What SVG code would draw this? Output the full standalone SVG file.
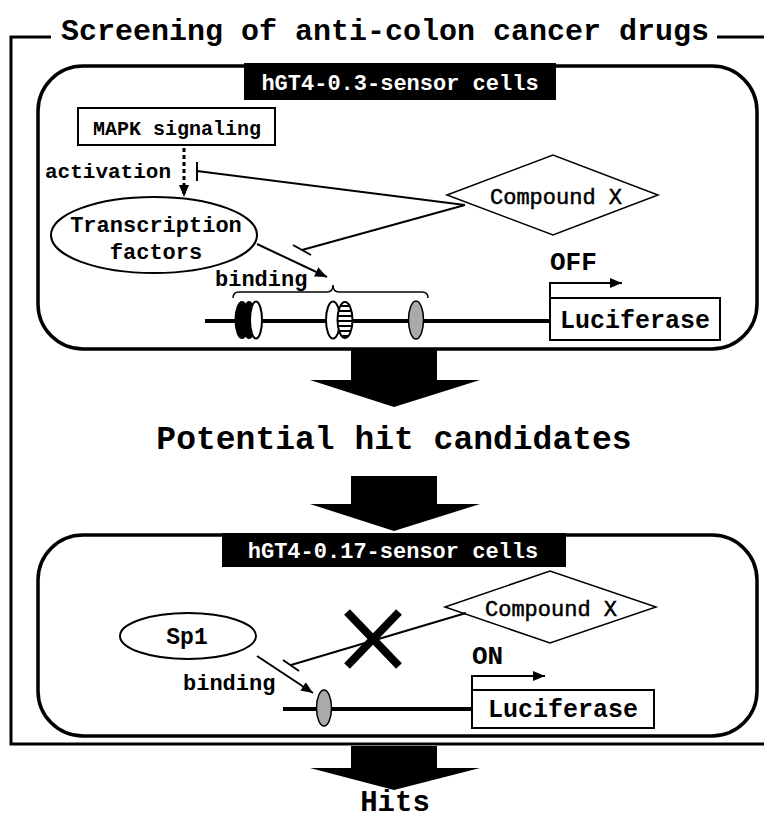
<svg xmlns="http://www.w3.org/2000/svg" width="764" height="823" viewBox="0 0 764 823">
<defs>
<style>
text{font-family:"Liberation Mono","Courier New",monospace;font-weight:bold;fill:#000}
.c{text-anchor:middle}
.w{fill:#fff}
.n{font-weight:normal;stroke:#000;stroke-width:0.5}
.ln{fill:none;stroke:#000;stroke-width:2}
.panel{fill:none;stroke:#000;stroke-width:3.5}
.frame{fill:none;stroke:#000;stroke-width:3}
.box{fill:#fff;stroke:#000;stroke-width:2}
.dia{fill:#fff;stroke:#000;stroke-width:1.5}
.big{fill:#000}
</style>
<marker id="arr" viewBox="0 0 12 10" refX="12" refY="5" markerWidth="12" markerHeight="10" markerUnits="userSpaceOnUse" orient="auto"><path d="M0,0 L12,5 L0,10 z" fill="#000"/></marker>
<pattern id="stripes" patternUnits="userSpaceOnUse" width="6" height="5"><rect width="6" height="5" fill="#fff"/><rect y="0" width="6" height="2" fill="#000"/></pattern>
</defs>

<g id="frame">
<path class="frame" d="M51,37 H11 V744 H764 M717,37 H764"/>
<text class="c" x="385" y="40" font-size="30">Screening of anti-colon cancer drugs</text>
</g>

<g id="panel1">
<rect class="panel" x="38" y="66" width="719" height="283" rx="45"/>
<rect x="244" y="63" width="312" height="37" fill="#000"/>
<text class="c w" x="400" y="90" font-size="22">hGT4-0.3-sensor cells</text>
</g>

<g id="mapk">
<rect class="box" x="78" y="108" width="197" height="37"/>
<text class="c" x="177" y="135" font-size="20">MAPK signaling</text>
</g>

<g id="tf">
<ellipse class="box" cx="154" cy="235" rx="103" ry="38"/>
<text class="c" x="156" y="232" font-size="22">Transcription</text>
<text class="c" x="156" y="259" font-size="22">factors</text>
</g>

<g id="compound1">
<polygon class="dia" points="447,195 553,155 658,195 553,235"/>
<text class="c n" x="556" y="204" font-size="22">Compound X</text>
</g>

<g id="dna1">
<line x1="205" y1="321" x2="550" y2="321" stroke="#000" stroke-width="4"/>
<ellipse cx="242" cy="320" rx="7.5" ry="19" fill="#000"/>
<ellipse cx="249" cy="320" rx="7" ry="19" fill="#000"/>
<ellipse cx="256" cy="320" rx="6" ry="18.5" fill="#fff" stroke="#000" stroke-width="2"/>
<ellipse cx="333" cy="320" rx="7" ry="18.5" fill="#fff" stroke="#000" stroke-width="2"/>
<ellipse cx="345" cy="320" rx="7.5" ry="18" fill="url(#stripes)" stroke="#000" stroke-width="2"/>
<ellipse cx="416" cy="320" rx="7.5" ry="19" fill="#aaa" stroke="#000" stroke-width="1.5"/>
<path d="M233,298 Q233,292 239,292 H327 Q333,292 333,285 Q333,292 339,292 H422 Q428,292 428,298" fill="none" stroke="#000" stroke-width="1.5"/>
</g>

<g id="luc1">
<rect class="box" x="550" y="298" width="170" height="42"/>
<text class="c" x="635" y="328" font-size="25">Luciferase</text>
<text x="550" y="270" font-size="26">OFF</text>
</g>

<g id="panel2">
<rect class="panel" x="38" y="535" width="719" height="201" rx="45"/>
<rect x="222" y="533" width="344" height="34" fill="#000"/>
<text class="c w" x="393" y="558" font-size="22">hGT4-0.17-sensor cells</text>
</g>

<g id="compound2">
<polygon class="dia" points="445,607 550,571 656,607 550,643"/>
<text class="c n" x="551" y="616" font-size="22">Compound X</text>
</g>

<g id="sp1">
<ellipse class="box" cx="188" cy="636" rx="68" ry="23"/>
<text class="c" x="187" y="644" font-size="23">Sp1</text>
</g>

<g id="dna2">
<line x1="283" y1="709" x2="472" y2="709" stroke="#000" stroke-width="4"/>
<ellipse cx="324" cy="708" rx="7.5" ry="18" fill="#aaa" stroke="#000" stroke-width="1.5"/>
</g>

<g id="luc2">
<rect class="box" x="472" y="690" width="182" height="38"/>
<text class="c" x="563" y="717" font-size="25">Luciferase</text>
<text x="472" y="664" font-size="26">ON</text>
</g>

<g id="connectors">
<line x1="184" y1="148" x2="184" y2="197" stroke="#000" stroke-width="3" stroke-dasharray="4,3" marker-end="url(#arr)"/>
<text x="45" y="178" font-size="21">activation</text>
<line class="ln" x1="197" y1="171" x2="465" y2="205"/>
<line class="ln" x1="197" y1="162" x2="197" y2="181"/>
<line class="ln" x1="465" y1="205" x2="302" y2="250"/>
<line class="ln" x1="293" y1="245" x2="311" y2="255"/>
<line class="ln" x1="257" y1="244" x2="327" y2="277" marker-end="url(#arr)"/>
<text x="215" y="286" font-size="22">binding</text>
<path class="ln" d="M550,298 V283 H622" stroke-width="2.5" marker-end="url(#arr)"/>
<polygon class="big" points="351,350 437,350 437,380 480,380 394,407 310,380 351,380"/>
<text class="c" x="394" y="449" font-size="33">Potential hit candidates</text>
<polygon class="big" points="351,476 437,476 437,504 480,504 394,531 310,504 351,504"/>
<line class="ln" x1="466" y1="613" x2="291" y2="665"/>
<line class="ln" x1="283" y1="660" x2="299" y2="671"/>
<path d="M347,612 L399,666 M399,612 L347,666" stroke="#000" stroke-width="8" fill="none"/>
<line class="ln" x1="257" y1="656" x2="313" y2="693" marker-end="url(#arr)"/>
<text x="183" y="690" font-size="22">binding</text>
<path class="ln" d="M472,690 V676 H545" stroke-width="2.5" marker-end="url(#arr)"/>
<polygon class="big" points="351,746 437,746 437,768 480,768 394,790 310,768 351,768"/>
<text class="c" x="395" y="811" font-size="29">Hits</text>
</g>
</svg>
